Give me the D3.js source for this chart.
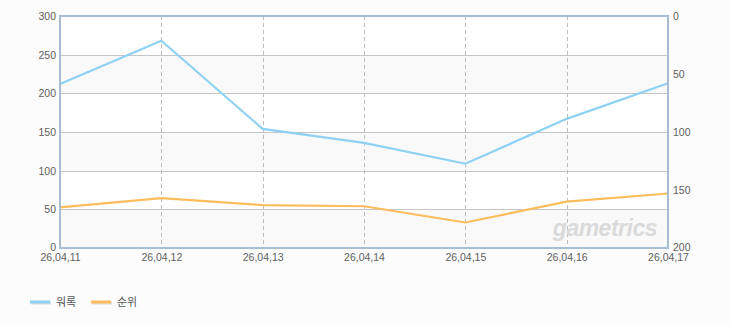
<!DOCTYPE html>
<html>
<head>
<meta charset="utf-8">
<script src="https://cdn.jsdelivr.net/npm/d3@7"></script>
<style>
  html, body { margin: 0; padding: 0; background: #fcfcfc; }
  svg { display: block; font-family: "Liberation Sans", Arial, "Noto Sans CJK KR", sans-serif; }
</style>
</head>
<body>
<div id="chart"></div>
<script>
(() => {
const dates = ['26,04,11', '26,04,12', '26,04,13', '26,04,14', '26,04,15', '26,04,16', '26,04,17'];
const usersValues = [212, 268, 154, 136, 109, 167, 213];
const rankValues = [165, 157, 163, 164, 178, 160, 153];
const leftTicks = [0, 50, 100, 150, 200, 250, 300];
const rightTicks = [0, 50, 100, 150, 200];
const seriesNames = ['워록', '순위'];
const seriesColors = ['#8fd1f2', '#fdbd5c'];

const width = 730;
const height = 325;
const plot = { left: 60, right: 668, top: 16, bottom: 248 };

const svg = d3.select('#chart')
    .append('svg')
    .attr('width', width)
    .attr('height', height);

const x = d3.scalePoint().domain(dates).range([plot.left, plot.right]);
const yLeft = d3.scaleLinear().domain([0, 300]).range([plot.bottom, plot.top]);
const yRight = d3.scaleLinear().domain([0, 200]).range([plot.top, plot.bottom]);

// plot background with alternating bands
svg.append('rect')
    .attr('x', plot.left).attr('y', plot.top)
    .attr('width', plot.right - plot.left).attr('height', plot.bottom - plot.top)
    .attr('fill', '#ffffff');

svg.selectAll('rect.band')
    .data(leftTicks.slice(0, -1).filter((d, i) => i % 2 === 0))
    .enter()
    .append('rect')
    .attr('class', 'band')
    .attr('x', plot.left)
    .attr('y', d => yLeft(d + 50))
    .attr('width', plot.right - plot.left)
    .attr('height', d => yLeft(d) - yLeft(d + 50))
    .attr('fill', '#f9f9f9');

// horizontal gridlines
svg.selectAll('line.grid')
    .data(leftTicks.slice(1, -1))
    .enter()
    .append('line')
    .attr('x1', plot.left).attr('x2', plot.right)
    .attr('y1', d => Math.round(yLeft(d)) + 0.5)
    .attr('y2', d => Math.round(yLeft(d)) + 0.5)
    .attr('stroke', '#c6c6c6')
    .attr('stroke-width', 1);

// vertical dashed lines
svg.selectAll('line.vgrid')
    .data(dates.slice(1, -1))
    .enter()
    .append('line')
    .attr('x1', d => Math.round(x(d)) + 0.5)
    .attr('x2', d => Math.round(x(d)) + 0.5)
    .attr('y1', plot.top).attr('y2', plot.bottom)
    .attr('stroke', '#bdbdbd')
    .attr('stroke-dasharray', '4,3')
    .attr('stroke-width', 1);

// watermark
svg.append('text')
    .attr('x', 657)
    .attr('y', 236)
    .attr('text-anchor', 'end')
    .attr('font-size', 23)
    .attr('font-weight', 'bold')
    .attr('font-style', 'italic')
    .attr('letter-spacing', -0.5)
    .attr('fill', '#dadada')
    .text('gametrics');

// lines
const lineUsers = d3.line().x((d, i) => x(dates[i])).y(d => yLeft(d));
const lineRank = d3.line().x((d, i) => x(dates[i])).y(d => yRight(d));

svg.append('path')
    .datum(rankValues)
    .attr('d', lineRank)
    .attr('fill', 'none')
    .attr('stroke', seriesColors[1])
    .attr('stroke-width', 2.2);

svg.append('path')
    .datum(usersValues)
    .attr('d', lineUsers)
    .attr('fill', 'none')
    .attr('stroke', seriesColors[0])
    .attr('stroke-width', 2.2);

// plot frame
svg.append('rect')
    .attr('x', plot.left).attr('y', plot.top)
    .attr('width', plot.right - plot.left).attr('height', plot.bottom - plot.top)
    .attr('fill', 'none')
    .attr('stroke', '#a9bdd2')
    .attr('stroke-width', 2);

// axes
const leftAxis = d3.axisLeft(yLeft).tickValues(leftTicks).tickSize(0).tickPadding(3);
const rightAxis = d3.axisRight(yRight).tickValues(rightTicks).tickSize(0).tickPadding(4);
const bottomAxis = d3.axisBottom(x).tickSize(0).tickPadding(6);

const styleAxis = g => {
    g.select('.domain').remove();
    g.selectAll('text').attr('fill', '#606060').attr('font-size', 10.5);
};

svg.append('g').attr('transform', `translate(${plot.left - 1},0)`).call(leftAxis).call(styleAxis)
    .selectAll('.tick text').attr('dy', d => d === 0 ? '0.2em' : '0.32em');
svg.append('g').attr('transform', `translate(${plot.right + 1},0)`).call(rightAxis).call(styleAxis)
    .selectAll('.tick text').attr('dy', d => d === 200 ? '0.2em' : '0.32em');
svg.append('g').attr('transform', `translate(0,${plot.bottom})`).call(bottomAxis).call(styleAxis);

// legend
const legend = svg.selectAll('g.legend')
    .data(seriesNames)
    .enter()
    .append('g')
    .attr('class', 'legend')
    .attr('transform', (d, i) => `translate(${30 + i * 61},302)`);

legend.append('line')
    .attr('x1', 1).attr('x2', 21).attr('y1', 1).attr('y2', 1)
    .attr('stroke', '#dddddd').attr('stroke-width', 3);
legend.append('line')
    .attr('x1', 0).attr('x2', 20).attr('y1', 0).attr('y2', 0)
    .attr('stroke', (d, i) => seriesColors[i]).attr('stroke-width', 3);
legend.append('text')
    .attr('x', 26).attr('y', 4)
    .attr('font-size', 11)
    .attr('fill', '#555')
    .text(d => d);
})();
</script>
</body>
</html>
